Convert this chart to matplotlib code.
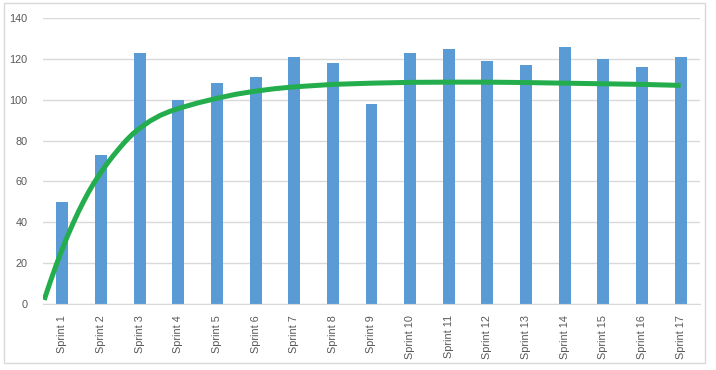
import matplotlib as mlt
mlt.use('Agg')
import matplotlib.pyplot as plt
import matplotlib.patches as patches
import numpy as np

plt.rcParams['font.family'] = ['Liberation Sans', 'DejaVu Sans']

sprints = ['Sprint %d' % i for i in range(1, 18)]
velocity = [50, 73, 123, 100, 108, 111, 121, 118, 98, 123, 125, 119, 117, 126, 120, 116, 121]

# trend line (x in sprint units, 1 = Sprint 1)
trend_x = [0.53, 0.69, 0.85, 1, 1.15, 1.29, 1.42, 1.55, 1.68, 1.81, 2, 2.17, 2.33, 2.5, 2.67, 2.83, 3,
           3.27, 3.53, 3.77, 4, 4.5, 5, 5.5, 6, 6.5, 7, 8, 9, 10, 11, 12, 13, 14, 15, 16, 17]
trend_y = [2, 11, 19.5, 27, 34, 40, 45.3, 50.2, 54.8, 59, 64.5, 69, 72.9, 76.8, 80.4, 83.4, 86,
           89.6, 92.3, 94.2, 95.7, 98.4, 100.7, 102.7, 104.2, 105.4, 106.3, 107.5, 108.1, 108.5, 108.6, 108.6, 108.4, 108.1, 107.8, 107.5, 107]

grey = '#d9d9d9'
txt = '#595959'

fig = plt.figure(figsize=(7.16, 3.70), dpi=100)
ax = fig.add_axes([43/716, 66/370, 657/716, 286/370])

x = np.arange(1, len(sprints)+1)
ax.bar(x, velocity, width=0.31, color='#5b9bd5', zorder=2)
ax.plot(trend_x, trend_y, color='#23ad4c', lw=3.6, zorder=3, solid_capstyle='butt')

ax.set_xlim(0.5, 17.5)
ax.set_ylim(0, 140)
ax.set_yticks(range(0, 141, 20))
ax.set_xticks(x)
ax.set_xticklabels(sprints, rotation=90)
ax.yaxis.grid(True, color=grey, lw=1, zorder=0)
ax.set_axisbelow(True)
for s in ['top', 'right', 'left']:
    ax.spines[s].set_visible(False)
ax.spines['bottom'].set_color(grey)
ax.tick_params(axis='both', length=0, labelcolor=txt, labelsize=7.8)
ax.tick_params(axis='y', pad=11)
ax.tick_params(axis='x', pad=8)

fig.patches.append(patches.Rectangle((4/716, 7/370), 701/716, 360/370, transform=fig.transFigure,
                                     fill=False, edgecolor=grey, lw=1))

plt.savefig('out.png', dpi=100)
